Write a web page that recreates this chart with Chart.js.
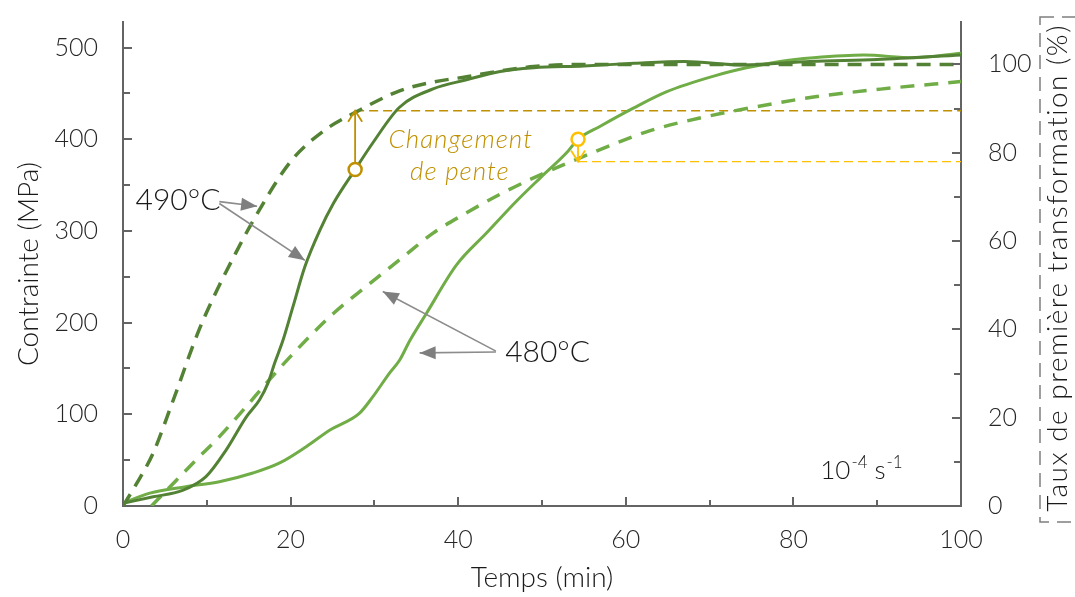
<!DOCTYPE html>
<html>
<head>
<meta charset="utf-8">
<script src="https://cdn.jsdelivr.net/npm/chart.js@4.4.1/dist/chart.umd.min.js"></script>
<style>
  html, body { margin: 0; padding: 0; background: #fff; }
  #wrap { width: 1075px; height: 597px; }
</style>
</head>
<body>
<div id="wrap"><canvas id="c" width="1075" height="597"></canvas></div>
<script>
// 490°C : contrainte (MPa) vs temps (min)
const t490Stress = [0, 3.6, 7.1, 9.9, 12.3, 14.7, 16.3, 17.3, 18.1, 19.1, 20.3, 21.7, 23.5, 25.1, 27.7, 29.8, 33, 37, 41, 45, 49, 55, 61, 67, 74, 82, 90, 100];
const stress490 = [3, 10, 17, 32, 61, 97, 116, 134, 156, 181, 218, 261, 301, 330, 367, 396, 435, 455, 465, 474, 478, 480, 483, 485, 481, 485, 487, 492];

// 490°C : taux de première transformation (%)
const t490Rate = [0, 1.6, 3.6, 6, 9.1, 11.5, 13.1, 15.5, 20, 24, 27.9, 33, 37, 41, 45, 49, 55, 70, 100];
const rate490 = [0, 5, 12, 24, 40, 50, 56, 64.5, 78, 85, 89.3, 94, 96, 97.2, 98.5, 99.5, 100, 100, 100];

// 480°C : contrainte (MPa)
const t480Stress = [0, 3.2, 7.5, 11.5, 15.5, 18.7, 21.9, 24.7, 28.2, 29.8, 31.8, 33, 34.2, 36.2, 39.8, 43.4, 47, 49.8, 52.9, 54.3, 56.9, 60.9, 64.9, 70.5, 74.4, 78.4, 82.4, 88.4, 94.3, 100];
const stress480 = [3, 14, 21, 26.5, 36, 47, 65, 83, 101, 119, 145, 159, 180, 210, 263, 298, 333, 358, 385, 400, 414, 434, 452, 469, 478, 485, 489, 492, 489, 494];

// 480°C : taux de première transformation (%)
const t480Rate = [3.4, 6.4, 8.7, 11.5, 14.7, 17.1, 20.7, 25.1, 29, 33.5, 37, 41, 45, 49.8, 54.5, 58.9, 62.9, 67.3, 74.4, 82.4, 90.4, 100];
const rate480 = [0, 5.9, 10.4, 15.7, 22.5, 27.8, 35.3, 43.6, 49.7, 56.5, 61.8, 66.4, 70.6, 75.0, 78.8, 82.2, 85.0, 87.2, 90.0, 92.6, 94.4, 96.1];

// "Changement de pente" markers
const slopeTimes = [27.7, 54.3];
const slopeStress = [367, 400];
const slopeRate = [89.5, 78];

const timeTicks = [0, 20, 40, 60, 80, 100];
const stressTicks = [0, 100, 200, 300, 400, 500];
const rateTicks = [0, 20, 40, 60, 80, 100];

const DARK = '#548235';
const LIGHT = '#70AD47';
const GOLD = '#BF9000';
const AMBER = '#FFC000';
const AXIS = '#646464';
const TXT = '#1a1a1a';
const FONT = 'Lato, "Noto Sans", sans-serif';

const pts = (xs, ys) => xs.map((x, i) => ({ x, y: ys[i] }));

function arrowHead(ctx, x0, y0, x1, y1, len, half) {
  const a = Math.atan2(y1 - y0, x1 - x0);
  ctx.beginPath();
  ctx.moveTo(x1, y1);
  ctx.lineTo(x1 - len * Math.cos(a) + half * Math.sin(a), y1 - len * Math.sin(a) - half * Math.cos(a));
  ctx.lineTo(x1 - len * Math.cos(a) - half * Math.sin(a), y1 - len * Math.sin(a) + half * Math.cos(a));
  ctx.closePath();
  ctx.fill();
}

// inward tick marks (Excel style)
const inwardTicks = {
  id: 'inwardTicks',
  afterDraw(chart) {
    const { ctx, chartArea: a, scales: { x, y, y1 } } = chart;
    ctx.save();
    ctx.strokeStyle = AXIS;
    ctx.lineWidth = 2;
    ctx.beginPath();
    x.ticks.forEach(tk => {
      if (tk.value <= 0 || tk.value >= 100) return;
      const p = Math.round(x.getPixelForValue(tk.value));
      const len = timeTicks.includes(tk.value) ? 9 : 6;
      ctx.moveTo(p, a.bottom); ctx.lineTo(p, a.bottom - len);
    });
    y.ticks.forEach(tk => {
      if (tk.value <= 0) return;
      const p = Math.round(y.getPixelForValue(tk.value));
      const len = stressTicks.includes(tk.value) ? 9 : 7;
      ctx.moveTo(a.left, p); ctx.lineTo(a.left + len, p);
    });
    y1.ticks.forEach(tk => {
      if (tk.value <= 0) return;
      const p = Math.round(y1.getPixelForValue(tk.value));
      const len = rateTicks.includes(tk.value) ? 9 : 7;
      ctx.moveTo(a.right, p); ctx.lineTo(a.right - len, p);
    });
    ctx.stroke();
    ctx.restore();
  }
};

// labels, arrows and the right axis title
const overlay = {
  id: 'overlay',
  afterDraw(chart) {
    const { ctx, scales: { x, y, y1 } } = chart;
    const X = v => x.getPixelForValue(v);
    const Y = v => y.getPixelForValue(v);
    const R = v => y1.getPixelForValue(v);
    ctx.save();

    // slope change arrows
    ctx.lineWidth = 1.8;
    [GOLD, AMBER].forEach((col, i) => {
      const cx = X(slopeTimes[i]);
      const cy = Y(slopeStress[i]);
      const ty = R(slopeRate[i]);
      const dir = ty < cy ? -1 : 1;
      ctx.strokeStyle = col;
      ctx.beginPath();
      ctx.moveTo(cx, cy + dir * 7);
      ctx.lineTo(cx, ty);
      ctx.moveTo(cx - 7, ty - dir * 11);
      ctx.lineTo(cx, ty);
      ctx.lineTo(cx + 7, ty - dir * 11);
      ctx.stroke();
    });

    ctx.fillStyle = GOLD;
    ctx.font = 'italic 300 26px ' + FONT;
    ctx.letterSpacing = '1px';
    ctx.textAlign = 'center';
    ctx.textBaseline = 'middle';
    ctx.fillText('Changement', X(40.3), Y(400));
    ctx.fillText('de pente', X(40.2), Y(365));
    ctx.letterSpacing = '0px';

    // temperature labels with gray arrows
    ctx.fillStyle = TXT;
    ctx.font = '300 30px ' + FONT;
    ctx.textAlign = 'left';
    ctx.fillText('490°C', X(1.5), Y(333));
    ctx.fillText('480°C', X(45.6), Y(168));

    ctx.strokeStyle = '#8c8c8c';
    ctx.fillStyle = '#7f7f7f';
    ctx.lineWidth = 1.6;
    const arrows = [
      [11.5, 332, 16.0, 327],
      [11.5, 330, 21.7, 268],
      [44.5, 168, 35.4, 167],
      [44.5, 169, 31.0, 234]
    ];
    arrows.forEach(([t0, s0, t1, s1]) => {
      const x0 = X(t0), y0 = Y(s0), x1 = X(t1), y1p = Y(s1);
      ctx.beginPath();
      ctx.moveTo(x0, y0);
      ctx.lineTo(x1, y1p);
      ctx.stroke();
      arrowHead(ctx, x0, y0, x1, y1p, 16, 6.5);
    });

    // strain rate
    ctx.fillStyle = TXT;
    ctx.textBaseline = 'alphabetic';
    let px = X(83.2);
    const base = Y(29.5);
    ctx.font = '300 26px ' + FONT;
    ctx.fillText('10', px, base);
    px += ctx.measureText('10').width;
    ctx.font = '300 17px ' + FONT;
    ctx.fillText('-4', px + 1, base - 11);
    px += ctx.measureText('-4').width + 8;
    ctx.font = '300 26px ' + FONT;
    ctx.fillText('s', px, base);
    px += ctx.measureText('s').width;
    ctx.font = '300 17px ' + FONT;
    ctx.fillText('-1', px + 1, base - 11);

    // right axis title in a dashed frame
    ctx.strokeStyle = '#7f7f7f';
    ctx.lineWidth = 1.5;
    ctx.setLineDash([14, 8]);
    ctx.strokeRect(1040, 17, 60, 505);
    ctx.setLineDash([]);
    ctx.translate(1058, 268);
    ctx.rotate(-Math.PI / 2);
    ctx.fillStyle = TXT;
    ctx.font = '300 28px ' + FONT;
    ctx.letterSpacing = '1.5px';
    ctx.textAlign = 'center';
    ctx.textBaseline = 'middle';
    ctx.fillText('Taux de première transformation (%)', 0, 0);
    ctx.restore();
  }
};

const tickFont = { family: FONT, size: 25, weight: 300 };
const titleFont = { family: FONT, size: 28, weight: 300 };

new Chart(document.getElementById('c'), {
  type: 'scatter',
  data: {
    datasets: [
      {
        label: 'Changement de pente',
        data: pts(slopeTimes, slopeStress),
        yAxisID: 'y',
        showLine: false,
        pointRadius: 6.5,
        pointBorderWidth: 2.5,
        pointBackgroundColor: '#fff',
        pointBorderColor: [GOLD, AMBER]
      },
      {
        label: '490°C contrainte',
        data: pts(t490Stress, stress490),
        yAxisID: 'y',
        showLine: true,
        borderColor: DARK,
        borderWidth: 3,
        pointRadius: 0,
        cubicInterpolationMode: 'monotone'
      },
      {
        label: '490°C taux',
        data: pts(t490Rate, rate490),
        yAxisID: 'y1',
        showLine: true,
        borderColor: DARK,
        borderWidth: 3.5,
        borderDash: [14, 9],
        pointRadius: 0,
        cubicInterpolationMode: 'monotone'
      },
      {
        label: '480°C contrainte',
        data: pts(t480Stress, stress480),
        yAxisID: 'y',
        showLine: true,
        borderColor: LIGHT,
        borderWidth: 3,
        pointRadius: 0,
        cubicInterpolationMode: 'monotone'
      },
      {
        label: '480°C taux',
        data: pts(t480Rate, rate480),
        yAxisID: 'y1',
        showLine: true,
        borderColor: LIGHT,
        borderWidth: 3.5,
        borderDash: [14, 10],
        pointRadius: 0,
        cubicInterpolationMode: 'monotone'
      },
      {
        label: 'niveau 1',
        data: [{ x: slopeTimes[0], y: slopeRate[0] }, { x: 100, y: slopeRate[0] }],
        yAxisID: 'y1',
        showLine: true,
        borderColor: GOLD,
        borderWidth: 1.3,
        borderDash: [9, 5],
        pointRadius: 0
      },
      {
        label: 'niveau 2',
        data: [{ x: slopeTimes[1], y: slopeRate[1] }, { x: 100, y: slopeRate[1] }],
        yAxisID: 'y1',
        showLine: true,
        borderColor: AMBER,
        borderWidth: 1.3,
        borderDash: [9, 5],
        pointRadius: 0
      }
    ]
  },
  options: {
    responsive: false,
    animation: false,
    layout: { padding: { top: 22, left: 0, right: 0, bottom: 0 } },
    plugins: { legend: { display: false }, tooltip: { enabled: false } },
    scales: {
      x: {
        type: 'linear',
        min: 0, max: 100,
        grid: { display: false, drawTicks: false },
        border: { color: AXIS, width: 2 },
        ticks: {
          stepSize: 10,
          padding: 19,
          font: tickFont,
          color: '#262626',
          maxRotation: 0,
          autoSkip: false,
          callback: v => timeTicks.includes(v) ? v : ''
        },
        title: { display: true, text: 'Temps (min)', font: titleFont, color: TXT, padding: { top: 0, bottom: 2 } },
        afterFit: s => { s.height = 91; s.paddingLeft = 0; s.paddingRight = 0; }
      },
      y: {
        position: 'left',
        min: 0, max: 528,
        grid: { display: false, drawTicks: false },
        border: { color: AXIS, width: 2 },
        ticks: {
          stepSize: 50,
          includeBounds: false,
          padding: 25,
          font: tickFont,
          color: '#262626',
          autoSkip: false,
          callback: v => stressTicks.includes(v) ? v : ''
        },
        title: { display: true, text: 'Contrainte (MPa)', font: titleFont, color: TXT, padding: { top: 12, bottom: 0 } },
        afterFit: s => { s.width = 123; s.paddingTop = 0; s.paddingBottom = 0; }
      },
      y1: {
        position: 'right',
        min: 0, max: 109.6,
        grid: { display: false, drawTicks: false },
        border: { color: AXIS, width: 2 },
        ticks: {
          stepSize: 10,
          includeBounds: false,
          padding: 27,
          font: tickFont,
          color: '#262626',
          autoSkip: false,
          callback: v => rateTicks.includes(v) ? v : ''
        },
        afterFit: s => { s.width = 114; s.paddingTop = 0; s.paddingBottom = 0; }
      }
    }
  },
  plugins: [inwardTicks, overlay]
});
</script>
</body>
</html>
